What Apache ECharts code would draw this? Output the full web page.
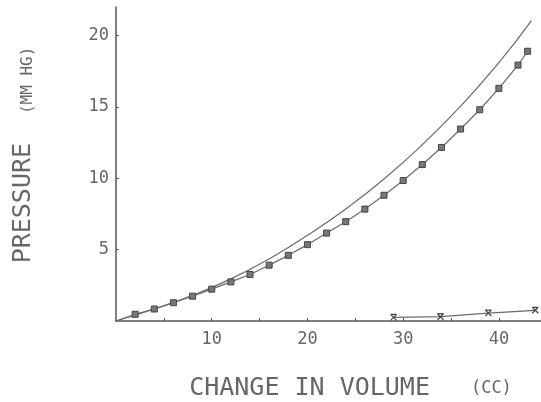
<!DOCTYPE html>
<html>
<head>
<meta charset="utf-8">
<script src="https://cdn.jsdelivr.net/npm/echarts@6/dist/echarts.min.js"></script>
<style>
  html, body { margin: 0; padding: 0; background: #ffffff; }
  #chart { width: 541px; height: 402px; }
</style>
</head>
<body>
<div id="chart"></div>
<script>
// Volume change (cc) vs pressure (mm Hg)
const curveVolume   = [0, 4, 8, 12, 16, 20, 24, 28, 32, 36, 40, 43.4];
const curvePressure = [0, 0.85, 1.8, 2.95, 4.35, 6.0, 7.85, 9.95, 12.35, 15.05, 18.1, 21.05];

const squareVolume   = [0, 2, 4, 6, 8, 10, 12, 14, 16, 18, 20, 22, 24, 26, 28, 30, 32, 34, 36, 38, 40, 42, 43];
const squarePressure = [0, 0.47, 0.84, 1.28, 1.74, 2.23, 2.74, 3.26, 3.91, 4.6, 5.35, 6.16, 6.96, 7.84, 8.81, 9.84, 10.96, 12.16, 13.45, 14.8, 16.3, 17.93, 18.9];

const crossVolume   = [29, 33.9, 38.9, 43.8];
const crossPressure = [0.25, 0.3, 0.55, 0.75];

const xTicks = [5, 10, 15, 20, 25, 30, 35, 40];
const xTickLabels = [10, 20, 30, 40];
const yTicks = [5, 10, 15, 20];
const yTickLabels = [5, 10, 15, 20];

const ink = '#555';
const font = 'DejaVu Sans Mono';

function pairs(xs, ys) { return xs.map((x, i) => [x, ys[i]]); }

const chart = echarts.init(document.getElementById('chart'), null, { renderer: 'canvas' });

chart.setOption({
  animation: false,
  backgroundColor: '#ffffff',
  grid: { left: 116, right: 0, top: 7, bottom: 81, containLabel: false, outerBoundsMode: 'none' },
  xAxis: {
    type: 'value',
    min: 0,
    max: 44.4,
    name: '{big|CHANGE IN VOLUME}{small|    (CC)}',
    nameLocation: 'middle',
    nameGap: 55,
    nameTextStyle: {
      padding: [0, 0, 0, 44],
      rich: {
        big: { fontFamily: font, fontSize: 25, color: '#666', fontWeight: 'normal' },
        small: { fontFamily: font, fontSize: 17, color: '#666', fontWeight: 'normal' }
      }
    },
    axisLine: { show: true, onZero: false, lineStyle: { color: ink, width: 1.5 } },
    axisTick: { show: true, inside: true, length: 3, customValues: xTicks, lineStyle: { color: ink, width: 1 } },
    axisLabel: { customValues: xTickLabels, margin: 10, fontFamily: font, fontSize: 17, color: '#666' },
    splitLine: { show: false }
  },
  yAxis: {
    type: 'value',
    min: 0,
    max: 22,
    name: '{big|PRESSURE}{small|   (MM HG)}',
    nameLocation: 'middle',
    nameGap: 80,
    nameTextStyle: {
      padding: [0, 0, 0, 18],
      rich: {
        big: { fontFamily: font, fontSize: 25, lineHeight: 26, color: '#666', fontWeight: 'normal', verticalAlign: 'bottom' },
        small: { fontFamily: font, fontSize: 16, lineHeight: 26, color: '#666', fontWeight: 'normal', verticalAlign: 'bottom' }
      }
    },
    axisLine: { show: true, onZero: false, lineStyle: { color: ink, width: 1.5 } },
    axisTick: { show: true, inside: true, length: 3, customValues: yTicks, lineStyle: { color: ink, width: 1 } },
    axisLabel: { customValues: yTickLabels, margin: 7, fontFamily: font, fontSize: 17, color: '#666' },
    splitLine: { show: false }
  },
  series: [
    {
      name: 'curve',
      type: 'line',
      data: pairs(curveVolume, curvePressure),
      smooth: 0.5,
      showSymbol: false,
      symbol: 'none',
      lineStyle: { color: '#6a6a6a', width: 1.2 }
    },
    {
      name: 'squares',
      type: 'line',
      data: pairs(squareVolume, squarePressure).map((p, i) => i === 0 ? { value: p, symbol: 'none' } : p),
      symbol: 'rect',
      symbolSize: 6,
      showAllSymbol: true,
      itemStyle: { color: '#777', borderColor: '#444', borderWidth: 1 },
      lineStyle: { color: '#6a6a6a', width: 1.2 }
    },
    {
      name: 'crosses',
      type: 'line',
      data: pairs(crossVolume, crossPressure),
      symbol: 'path://M0,0L10,10M10,0L0,10M0,0L10,0',
      symbolSize: 6,
      showAllSymbol: true,
      itemStyle: { color: 'none', borderColor: '#444', borderWidth: 1.2 },
      lineStyle: { color: '#6a6a6a', width: 1.2 }
    }
  ]
});
</script>
</body>
</html>
